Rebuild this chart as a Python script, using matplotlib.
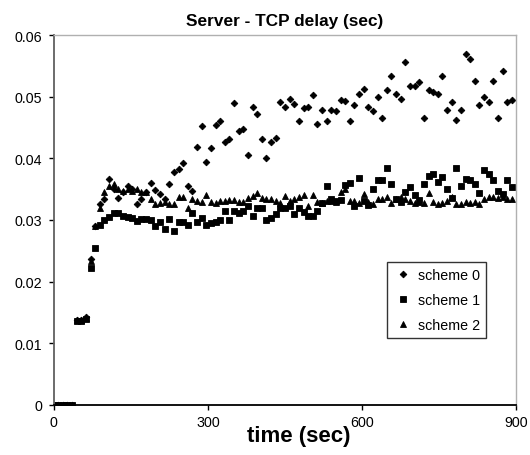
"""Server - TCP delay scatter chart (three schemes)."""

import matplotlib

matplotlib.use("Agg")
import matplotlib.pyplot as plt

plt.rcParams["font.family"] = ["Liberation Sans", "DejaVu Sans"]

# sample times (sec), one every 9 s
time_sec = [
    0, 9, 18, 27, 36, 45, 54, 63, 72, 81,
    90, 99, 108, 117, 126, 135, 144, 153, 162, 171,
    180, 189, 198, 207, 216, 225, 234, 243, 252, 261,
    270, 279, 288, 297, 306, 315, 324, 333, 342, 351,
    360, 369, 378, 387, 396, 405, 414, 423, 432, 441,
    450, 459, 468, 477, 486, 495, 504, 513, 522, 531,
    540, 549, 558, 567, 576, 585, 594, 603, 612, 621,
    630, 639, 648, 657, 666, 675, 684, 693, 702, 711,
    720, 729, 738, 747, 756, 765, 774, 783, 792, 801,
    810, 819, 828, 837, 846, 855, 864, 873, 882, 891,
]

scheme0 = [
    0, 0, 0, 0, 0, 0.0137, 0.0137, 0.0142, 0.0236, 0.0290,
    0.0326, 0.0334, 0.0366, 0.0350, 0.0336, 0.0345, 0.0355, 0.0350, 0.0326, 0.0334,
    0.0345, 0.0360, 0.0348, 0.0342, 0.0334, 0.0358, 0.0377, 0.0382, 0.0392, 0.0355,
    0.0347, 0.0419, 0.0452, 0.0394, 0.0416, 0.0454, 0.0461, 0.0426, 0.0432, 0.0489,
    0.0445, 0.0447, 0.0405, 0.0484, 0.0472, 0.0432, 0.0401, 0.0426, 0.0433, 0.0492,
    0.0484, 0.0496, 0.0488, 0.0461, 0.0481, 0.0484, 0.0502, 0.0455, 0.0479, 0.0460,
    0.0479, 0.0476, 0.0494, 0.0493, 0.0460, 0.0486, 0.0504, 0.0512, 0.0484, 0.0477,
    0.0499, 0.0465, 0.0510, 0.0534, 0.0504, 0.0497, 0.0557, 0.0518, 0.0518, 0.0524,
    0.0465, 0.0511, 0.0508, 0.0504, 0.0534, 0.0479, 0.0491, 0.0462, 0.0479, 0.0569,
    0.0561, 0.0526, 0.0486, 0.0500, 0.0492, 0.0526, 0.0466, 0.0542, 0.0491, 0.0495,
]

scheme1 = [
    0, 0, 0, 0, 0, 0.0136, 0.0136, 0.0140, 0.0222, 0.0254,
    0.0292, 0.0300, 0.0304, 0.0312, 0.0311, 0.0307, 0.0304, 0.0303, 0.0299, 0.0301,
    0.0301, 0.0300, 0.0290, 0.0297, 0.0286, 0.0301, 0.0282, 0.0297, 0.0297, 0.0292,
    0.0311, 0.0297, 0.0303, 0.0291, 0.0295, 0.0296, 0.0300, 0.0315, 0.0300, 0.0315,
    0.0311, 0.0315, 0.0323, 0.0306, 0.0320, 0.0320, 0.0300, 0.0303, 0.0310, 0.0320,
    0.0320, 0.0322, 0.0310, 0.0319, 0.0313, 0.0306, 0.0306, 0.0315, 0.0328, 0.0355,
    0.0334, 0.0330, 0.0333, 0.0356, 0.0360, 0.0323, 0.0368, 0.0331, 0.0324, 0.0350,
    0.0365, 0.0365, 0.0385, 0.0358, 0.0334, 0.0329, 0.0345, 0.0353, 0.0340, 0.0332,
    0.0358, 0.0371, 0.0375, 0.0361, 0.0369, 0.0350, 0.0335, 0.0385, 0.0355, 0.0366,
    0.0364, 0.0358, 0.0344, 0.0381, 0.0375, 0.0365, 0.0347, 0.0342, 0.0364, 0.0353,
]

scheme2 = [
    0, 0, 0, 0, 0, 0.0137, 0.0137, 0.0141, 0.0233, 0.0290,
    0.0320, 0.0345, 0.0355, 0.0358, 0.0350, 0.0347, 0.0350, 0.0347, 0.0350, 0.0345,
    0.0345, 0.0334, 0.0326, 0.0328, 0.0329, 0.0326, 0.0326, 0.0337, 0.0337, 0.0320,
    0.0334, 0.0331, 0.0329, 0.0340, 0.0329, 0.0328, 0.0330, 0.0331, 0.0332, 0.0332,
    0.0329, 0.0329, 0.0335, 0.0339, 0.0343, 0.0336, 0.0334, 0.0334, 0.0330, 0.0327,
    0.0339, 0.0331, 0.0334, 0.0337, 0.0340, 0.0323, 0.0341, 0.0329, 0.0328, 0.0331,
    0.0331, 0.0329, 0.0345, 0.0350, 0.0331, 0.0331, 0.0328, 0.0342, 0.0329, 0.0326,
    0.0334, 0.0334, 0.0337, 0.0328, 0.0334, 0.0338, 0.0334, 0.0331, 0.0328, 0.0329,
    0.0328, 0.0344, 0.0329, 0.0326, 0.0328, 0.0331, 0.0337, 0.0326, 0.0326, 0.0329,
    0.0328, 0.0329, 0.0326, 0.0334, 0.0337, 0.0337, 0.0335, 0.0337, 0.0334, 0.0334,
]

x_ticks = [0, 300, 600, 900]
y_ticks = [0, 0.01, 0.02, 0.03, 0.04, 0.05, 0.06]
y_tick_labels = ["0", "0.01", "0.02", "0.03", "0.04", "0.05", "0.06"]

fig = plt.figure(figsize=(5.30, 4.56), dpi=100)
ax = fig.add_axes([0.101, 0.110, 0.8735, 0.811])

ax.plot(time_sec, scheme0, linestyle="none", marker="D", markersize=3.4,
        markeredgewidth=0.6, color="black", label="scheme 0")
ax.plot(time_sec, scheme1, linestyle="none", marker="s", markersize=3.7,
        markeredgewidth=0.6, color="black", label="scheme 1")
ax.plot(time_sec, scheme2, linestyle="none", marker="^", markersize=4.4,
        markeredgewidth=0.6, color="black", label="scheme 2")

ax.set_xlim(0, 900)
ax.set_ylim(0, 0.06)
ax.set_xticks(x_ticks)
ax.set_xticklabels([str(t) for t in x_ticks])
ax.set_yticks(y_ticks)
ax.set_yticklabels(y_tick_labels)
ax.tick_params(direction="out", length=3.5, width=1, labelsize=10.3, colors="black")
ax.tick_params(axis="x", pad=4)
ax.tick_params(axis="y", pad=4.5)

for side in ["top", "right"]:
    ax.spines[side].set_color("#b0b0b0")
    ax.spines[side].set_linewidth(1.0)
ax.spines["left"].set_color("#606060")
ax.spines["left"].set_linewidth(1.3)
ax.spines["bottom"].set_color("black")
ax.spines["bottom"].set_linewidth(1.3)

ax.set_title("Server - TCP delay (sec)", fontsize=12.4, fontweight="bold", pad=7)
ax.set_xlabel("time (sec)", fontsize=16, fontweight="bold", labelpad=0)
ax.xaxis.set_label_coords(0.53, -0.055)

leg = ax.legend(loc="upper left", bbox_to_anchor=(0.720, 0.387), fontsize=10.3,
                frameon=True, fancybox=False, edgecolor="black",
                handletextpad=0.4, borderpad=0.45, labelspacing=0.75,
                handlelength=1.3, borderaxespad=0)
leg.get_frame().set_linewidth(1.0)

fig.savefig("out.png", dpi=100)
